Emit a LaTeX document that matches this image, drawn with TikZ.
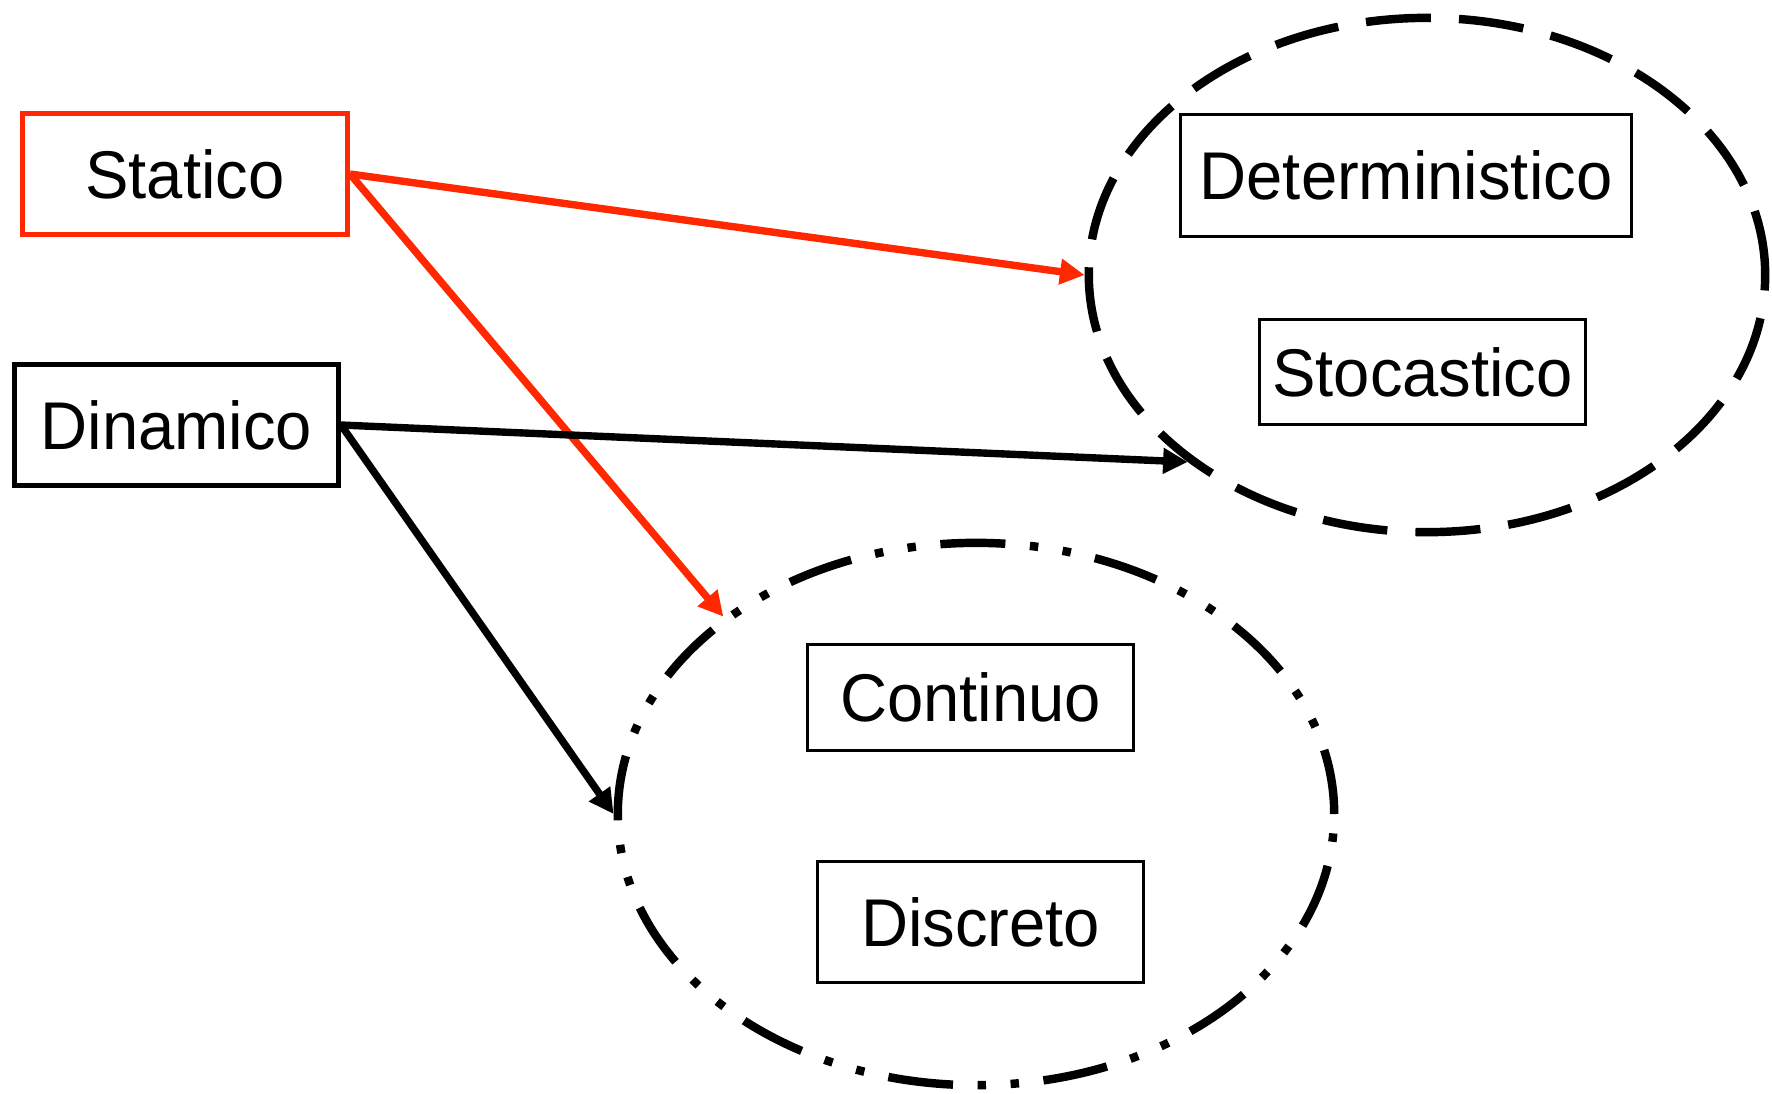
\documentclass[tikz,border=0pt]{standalone}
\usepackage{fontspec}
\setmainfont[FakeStretch=0.965]{Liberation Sans}
\usetikzlibrary{shapes.geometric,arrows.meta}
\definecolor{ored}{RGB}{255,40,0}
\begin{document}
\begin{tikzpicture}[x=0.01cm,y=-0.01cm,
  lbl/.style={font=\fontsize{19.2}{23}\selectfont, text=black},
  bigbox/.style={draw, line width=1.55pt, inner sep=0pt, lbl},
  smallbox/.style={draw, line width=0.75pt, inner sep=0pt, lbl},
  conn/.style={line width=2.1pt, -{Triangle[length=7pt,width=7pt]}},
  dashell/.style={draw, ellipse, inner sep=0pt, line width=2.4pt, dash pattern=on 18.5pt off 8pt},
  dotell/.style={draw, ellipse, inner sep=0pt, line width=2.4pt, dash pattern=on 18.5pt off 7pt on 2.4pt off 7pt on 2.4pt off 7pt}
]
\useasboundingbox (0,0) rectangle (1772,1093);

\node[dashell, minimum width=6.76cm, minimum height=5.14cm] (E1) at (1427,275) {};
\node[dotell, minimum width=7.16cm, minimum height=5.42cm] (E2) at (976,814) {};

\node[bigbox, draw=ored, minimum width=3.245cm, minimum height=1.205cm] (S) at (185,174) {Statico};
\node[bigbox, minimum width=3.235cm, minimum height=1.205cm] (D) at (176.5,425) {Dinamico};

\node[smallbox, minimum width=4.51cm, minimum height=1.22cm] (Det) at (1406,175.5) {Deterministico};
\node[smallbox, minimum width=3.26cm, minimum height=1.05cm] (Sto) at (1422.5,372) {Stocastico};
\node[smallbox, minimum width=3.26cm, minimum height=1.06cm] (Con) at (970.5,697.5) {Continuo};
\node[smallbox, minimum width=3.26cm, minimum height=1.21cm] (Dis) at (980.5,922) {Discreto};

\draw[conn, ored] (S.east) -- (E1.west);
\draw[conn, ored] (S.east) -- (E2.142);
\draw[conn] (D.east) -- (E1.218);
\draw[conn] (D.east) -- (E2.west);
\end{tikzpicture}
\end{document}
